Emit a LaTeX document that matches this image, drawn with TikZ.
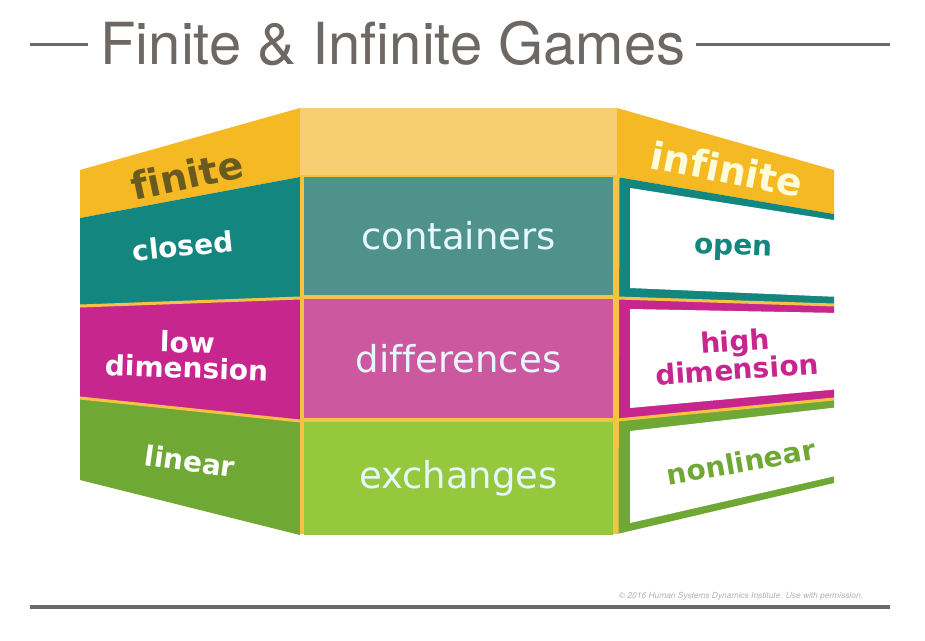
\documentclass[tikz,border=0pt]{standalone}
\usepackage{fontspec}
\setmainfont{DejaVu Sans}[Ligatures=NoCommon]
\newfontfamily\titlefont{TeX Gyre Heros}
\usepackage{xcolor}
\usepackage{tikz}
\usetikzlibrary{positioning, calc}

\definecolor{gold}{HTML}{F4B923}
\definecolor{paleGold}{HTML}{F7CF72}
\definecolor{seam}{HTML}{F6C246}
\definecolor{olive}{HTML}{6B5A1F}
\definecolor{tealDark}{HTML}{13877F}
\definecolor{tealMid}{HTML}{4F928B}
\definecolor{magDark}{HTML}{C8268F}
\definecolor{magMid}{HTML}{CC58A0}
\definecolor{grnDark}{HTML}{6FA834}
\definecolor{grnMid}{HTML}{96C83E}
\definecolor{titleGray}{HTML}{6D6863}

\tikzset{
	head/.style={font=\bfseries\fontsize{38}{38}\selectfont, inner sep=0pt},
	side/.style={font=\bfseries\fontsize{28}{25}\selectfont, align=center, inner sep=0pt},
	cell/.style={font=\fontsize{37}{37}\selectfont, text=white!90!cyan, inner sep=0pt, minimum width=309pt},
	seamline/.style={seam, line width=3pt},
}

\begin{document}
\begin{tikzpicture}[x=1pt, y=-1pt]
		\useasboundingbox[fill=white] (0,0) rectangle (925,640);
		
		% Title
		\node[text=titleGray, font=\titlefont\fontsize{58}{58}\selectfont, inner sep=0pt] (title) at (393,44) {Finite \& Infinite Games};
		\coordinate (tl) at (30,44);
		\coordinate (tr) at (890,44);
		\draw[titleGray, line width=3pt] (tl) -- ([xshift=-12]title.west);
		\draw[titleGray, line width=3pt] ([xshift=10]title.east) -- (tr);
		
		% Corners of the left face
		\coordinate (L0a) at (80,170);  \coordinate (L0b) at (300,108);
		\coordinate (L1a) at (80,218);  \coordinate (L1b) at (300,177);
		\coordinate (L2a) at (80,306);  \coordinate (L2b) at (300,298);
		\coordinate (L3a) at (80,398);  \coordinate (L3b) at (300,421);
		\coordinate (L4a) at (80,480);  \coordinate (L4b) at (300,535);
		
		% Corners of the right face
		\coordinate (R0a) at (617,108); \coordinate (R0b) at (834,170);
		\coordinate (R1a) at (617,177); \coordinate (R1b) at (834,214);
		\coordinate (R2a) at (617,298); \coordinate (R2b) at (834,305);
		\coordinate (R3a) at (617,420); \coordinate (R3b) at (834,399);
		\coordinate (R4a) at (617,534); \coordinate (R4b) at (834,483);
		
		% Left face
		\fill[gold] (L0a) -- (L0b) -- (L1b) -- (L1a) -- cycle;
		\fill[tealDark] (L1a) -- (L1b) -- (L2b) -- (L2a) -- cycle;
		\fill[magDark] (L2a) -- (L2b) -- (L3b) -- (L3a) -- cycle;
		\fill[grnDark] (L3a) -- (L3b) -- (L4b) -- (L4a) -- cycle;
		\draw[seamline] (L2a) -- (L2b);
		\draw[seamline] (L3a) -- (L3b);
		
		% Right face
		\fill[gold] (R0a) -- (R0b) -- (R1b) -- (R1a) -- cycle;
		\fill[tealDark] (R1a) -- (R1b) -- (R2b) -- (R2a) -- cycle;
		\fill[magDark] (R2a) -- (R2b) -- (R3b) -- (R3a) -- cycle;
		\fill[grnDark] (R3a) -- (R3b) -- (R4b) -- (R4a) -- cycle;
		\draw[seamline] (R2a) -- (R2b);
		\draw[seamline] (R3a) -- (R3b);
		\fill[white] ($(R1a)+(13,11)$) -- ($(R1b)+(6,7)$) -- ($(R2b)+(6,-8)$) -- ($(R2a)+(13,-10)$) -- cycle;
		\fill[white] ($(R2a)+(13,11)$) -- ($(R2b)+(6,8)$) -- ($(R3b)+(6,-10)$) -- ($(R3a)+(13,-12)$) -- cycle;
		\fill[white] ($(R3a)+(13,11)$) -- ($(R3b)+(6,8)$) -- ($(R4b)+(6,-8)$) -- ($(R4a)+(13,-11)$) -- cycle;
		\draw[seamline] (618,175) -- (R4a);
		
		% Middle face
		\fill[seam] (L0b) rectangle (R4a);
		\fill[paleGold] (L0b) rectangle (617,175);
		\node[cell, fill=tealMid, minimum height=118pt] (containers) at (458.5,236) {containers};
		\node[cell, fill=magMid, minimum height=119pt] (differences) at (458.5,358.5) {differences};
		\node[cell, fill=grnMid, minimum height=113pt] (exchanges) at (458.5,478.5) {exchanges};
		
		% Labels
		\node[head, text=olive, rotate=12] (finite) at (187,175) {finite};
		\node[side, text=white, rotate=6] (closed) at (183,246) {closed};
		\node[side, text=white, rotate=-2] (lowdim) at (187,355) {low\\dimension};
		\node[side, text=white, rotate=-8] (linear) at (190,461) {linear};
		
		\node[head, text=white!85!yellow, rotate=-11] (infinite) at (727,169) {infinite};
		\node[side, text=tealDark, rotate=-2] (open) at (733,250) {open};
		\node[side, text=magDark, rotate=4] (highdim) at (736,355) {high\\dimension};
		\node[side, text=grnDark, rotate=10] (nonlinear) at (741,462) {nonlinear};
		
		% Footer
		\node[text=gray!60, font=\titlefont\itshape\fontsize{8.4}{8.4}\selectfont, inner sep=0pt] (credit) at (741,596) {\textcopyright\ 2016 Human Systems Dynamics Institute. Use with permission.};
		\coordinate (bl) at (30,607);
		\coordinate (br) at (890,607);
		\draw[titleGray, line width=4pt] (bl) -- (br);
	\end{tikzpicture}
\end{document}
